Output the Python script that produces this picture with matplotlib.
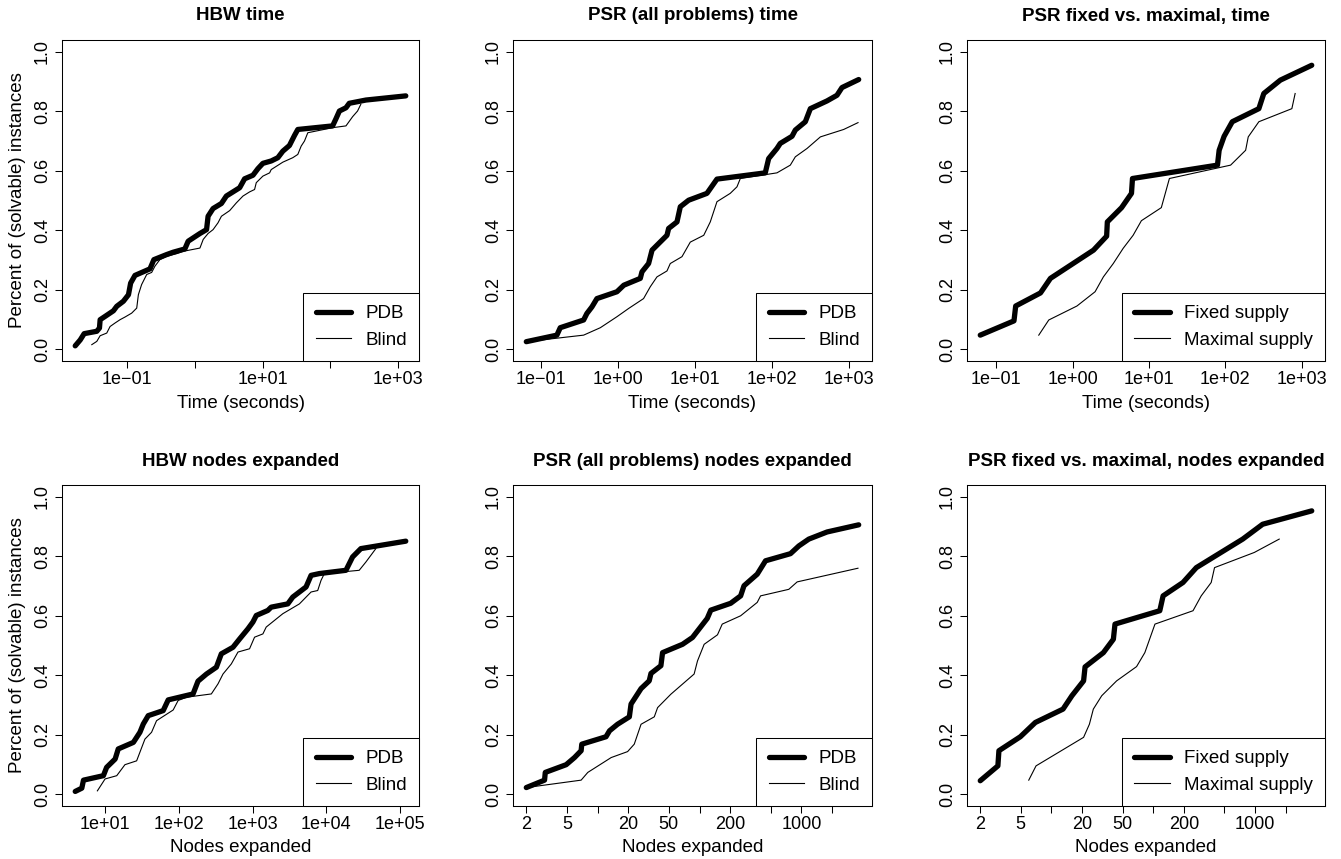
import numpy as np
import matplotlib
matplotlib.use("Agg")
import matplotlib.pyplot as plt

plt.rcParams['font.family'] = ['Liberation Sans', 'DejaVu Sans']

# ---------------- data ----------------
# Panel 1: HBW time
hbw_time_pdb_x = [0.0172, 0.0204, 0.0233, 0.0358, 0.0392, 0.0401, 0.0474, 0.0630, 0.0705, 0.0883,
                  0.105, 0.113, 0.131, 0.218, 0.249, 0.383, 0.480, 0.713, 0.798, 1.19, 1.49, 1.57,
                  1.86, 2.47, 2.92, 3.66, 4.59, 5.43, 7.21, 8.53, 10.1, 13.4, 16.8, 19.9, 24.9, 29.6,
                  33.1, 108, 121, 136, 170, 190, 335, 1297]
hbw_time_pdb_y = [0.011, 0.031, 0.052, 0.060, 0.071, 0.099, 0.110, 0.129, 0.144, 0.161,
                  0.183, 0.222, 0.248, 0.270, 0.301, 0.318, 0.326, 0.337, 0.363, 0.389, 0.402, 0.447,
                  0.473, 0.490, 0.515, 0.529, 0.543, 0.573, 0.585, 0.607, 0.625, 0.633, 0.644, 0.666,
                  0.685, 0.719, 0.739, 0.751, 0.775, 0.801, 0.812, 0.827, 0.838, 0.852]
hbw_time_blind_x = [0.0302, 0.0358, 0.0401, 0.0502, 0.0562, 0.0667, 0.0789, 0.0935, 0.117, 0.139,
                    0.147, 0.164, 0.195, 0.231, 0.258, 0.305, 0.383, 0.537, 0.673, 1.19, 1.33, 1.57,
                    1.86, 2.20, 2.47, 3.27, 4.10, 5.14, 6.44, 7.62, 8.07, 10.1, 12.7, 13.4, 19.9, 27.9,
                    33.1, 37.1, 41.5, 46.5, 108, 170, 213, 252, 282]
hbw_time_blind_y = [0.015, 0.026, 0.045, 0.054, 0.076, 0.088, 0.099, 0.108, 0.121, 0.138,
                    0.183, 0.217, 0.251, 0.258, 0.279, 0.301, 0.312, 0.321, 0.329, 0.340, 0.369, 0.389,
                    0.402, 0.425, 0.447, 0.466, 0.492, 0.515, 0.529, 0.537, 0.560, 0.582, 0.593, 0.604,
                    0.629, 0.644, 0.655, 0.683, 0.700, 0.728, 0.745, 0.751, 0.782, 0.801, 0.824]

# Panel 2: PSR (all problems) time
psr_time_pdb_x = [0.0645, 0.161, 0.178, 0.358, 0.395, 0.459, 0.533, 0.970, 1.19, 1.95, 2.05, 2.50,
                  2.77, 4.33, 4.55, 5.84, 6.45, 8.28, 14.3, 19.3, 81.8, 90.5, 116, 128, 182, 201,
                  271, 315, 518, 698, 811, 1337]
psr_time_pdb_y = [0.025, 0.047, 0.072, 0.098, 0.120, 0.142, 0.170, 0.193, 0.215, 0.238, 0.260, 0.288,
                  0.333, 0.383, 0.406, 0.428, 0.479, 0.501, 0.524, 0.572, 0.593, 0.641, 0.675, 0.692,
                  0.716, 0.737, 0.765, 0.809, 0.835, 0.854, 0.880, 0.907]
psr_time_blind_x = [0.0645, 0.358, 0.590, 0.970, 1.38, 2.15, 2.63, 3.21, 4.33, 4.78, 6.78, 8.69,
                    13.0, 15.8, 19.3, 28.7, 35.1, 38.8, 116, 173, 201, 285, 425, 853, 1310]
psr_time_blind_y = [0.025, 0.047, 0.072, 0.109, 0.137, 0.170, 0.210, 0.243, 0.263, 0.288, 0.311, 0.360,
                    0.383, 0.428, 0.496, 0.524, 0.546, 0.574, 0.593, 0.619, 0.647, 0.675, 0.714, 0.739, 0.762]

# Panel 3: PSR fixed vs. maximal, time
fm_time_fixed_x = [0.0619, 0.171, 0.180, 0.380, 0.513, 1.88, 2.79, 2.85, 4.38, 5.90, 6.08,
                   78.7, 82.8, 96.2, 123, 274, 318, 524, 1349]
fm_time_fixed_y = [0.047, 0.095, 0.145, 0.189, 0.238, 0.333, 0.380, 0.428, 0.476, 0.524, 0.574,
                   0.619, 0.669, 0.716, 0.765, 0.809, 0.860, 0.905, 0.955]
fm_time_max_x = [0.361, 0.488, 1.14, 1.97, 2.53, 3.41, 4.59, 6.20, 7.95, 14.5, 18.5,
                 117, 184, 199, 274, 741, 818]
fm_time_max_y = [0.047, 0.098, 0.145, 0.193, 0.243, 0.288, 0.339, 0.383, 0.432, 0.476, 0.574,
                 0.619, 0.669, 0.714, 0.765, 0.809, 0.860]

# Panel 4: HBW nodes expanded
hbw_nodes_pdb_x = [3.94, 4.84, 5.10, 9.49, 10.5, 13.7, 15.1, 24.2, 29.7, 33.0, 38.5, 61.4, 71.8,
                   156, 182, 237, 323, 377, 542, 667, 865, 1011, 1122, 1611, 1787, 3000, 3508,
                   4315, 5309, 6209, 8040, 18440, 22700, 29400, 119400]
hbw_nodes_pdb_y = [0.009, 0.020, 0.047, 0.062, 0.090, 0.118, 0.152, 0.174, 0.208, 0.236, 0.264, 0.281,
                   0.317, 0.337, 0.380, 0.404, 0.427, 0.472, 0.494, 0.522, 0.556, 0.579, 0.601, 0.618,
                   0.629, 0.640, 0.663, 0.680, 0.697, 0.736, 0.742, 0.753, 0.798, 0.826, 0.851]
hbw_nodes_blind_x = [7.87, 10.0, 14.4, 18.6, 26.8, 34.7, 42.7, 49.9, 83.8, 97.9, 127, 276, 340, 397,
                     515, 634, 910, 1064, 1380, 1530, 2570, 4315, 6209, 7640, 8470, 9400, 27900,
                     34400, 46900]
hbw_nodes_blind_y = [0.011, 0.051, 0.062, 0.099, 0.112, 0.185, 0.208, 0.247, 0.283, 0.315, 0.326,
                     0.337, 0.371, 0.404, 0.438, 0.478, 0.489, 0.528, 0.539, 0.562, 0.607, 0.640,
                     0.680, 0.685, 0.719, 0.742, 0.753, 0.781, 0.826]

# Panel 5: PSR (all problems) nodes expanded
psr_nodes_pdb_x = [2.0, 3.02, 3.07, 4.92, 5.94, 6.90, 7.00, 12.1, 13.1, 15.7, 20.5, 21.3, 26.7, 32.1,
                   33.4, 41.8, 43.4, 68.1, 85.3, 119, 129, 202, 253, 273, 368, 444, 780, 942, 1180,
                   1783, 3640]
psr_nodes_pdb_y = [0.022, 0.047, 0.073, 0.099, 0.123, 0.146, 0.168, 0.193, 0.213, 0.235, 0.260, 0.303,
                   0.355, 0.381, 0.406, 0.432, 0.476, 0.504, 0.527, 0.591, 0.619, 0.642, 0.667, 0.701,
                   0.740, 0.785, 0.809, 0.835, 0.858, 0.882, 0.906]
psr_nodes_blind_x = [2.0, 6.90, 8.02, 13.6, 19.7, 22.9, 26.7, 36.0, 38.8, 52.3, 88.5, 95.5, 111, 150,
                     167, 253, 368, 397, 751, 907, 3580]
psr_nodes_blind_y = [0.022, 0.047, 0.073, 0.123, 0.143, 0.168, 0.235, 0.260, 0.291, 0.336, 0.404, 0.448,
                     0.504, 0.536, 0.572, 0.600, 0.645, 0.667, 0.689, 0.714, 0.760]

# Panel 6: PSR fixed vs. maximal, nodes expanded
fm_nodes_fixed_x = [2.0, 2.98, 3.05, 4.95, 6.95, 13.0, 15.9, 20.7, 21.4, 32.4, 40.6, 42.1, 116, 125,
                    196, 265, 757, 1188, 3605]
fm_nodes_fixed_y = [0.045, 0.095, 0.146, 0.193, 0.241, 0.286, 0.331, 0.381, 0.428, 0.476, 0.521, 0.572,
                    0.617, 0.667, 0.712, 0.762, 0.858, 0.908, 0.953]
fm_nodes_max_x = [5.99, 7.06, 20.7, 23.6, 25.8, 31.2, 43.7, 68.6, 82.7, 104, 246, 296, 371, 400,
                  983, 1728]
fm_nodes_max_y = [0.047, 0.095, 0.191, 0.235, 0.286, 0.331, 0.381, 0.429, 0.476, 0.572, 0.617, 0.667,
                  0.712, 0.762, 0.813, 0.858]

titles = ["HBW time", "PSR (all problems) time", "PSR fixed vs. maximal, time",
          "HBW nodes expanded", "PSR (all problems) nodes expanded",
          "PSR fixed vs. maximal, nodes expanded"]
legend_pdb = ["PDB", "Blind"]
legend_fm = ["Fixed supply", "Maximal supply"]

time_ticks = [0.1, 1, 10, 100, 1000]
time_labels_hbw = ["1e\u221201", "", "1e+01", "", "1e+03"]
time_labels_psr = ["1e\u221201", "1e+00", "1e+01", "1e+02", "1e+03"]
hbw_node_ticks = [10, 100, 1000, 10000, 100000]
hbw_node_labels = ["1e+01", "1e+02", "1e+03", "1e+04", "1e+05"]
psr_node_ticks = [2, 5, 10, 20, 50, 100, 200, 500, 1000, 2000]
psr_node_labels = ["2", "5", "", "20", "50", "", "200", "", "1000", ""]
y_ticks = [0.0, 0.2, 0.4, 0.6, 0.8, 1.0]
y_labels = ["0.0", "0.2", "0.4", "0.6", "0.8", "1.0"]

# ---------------- layout ----------------
W, H = 1341, 859
fig = plt.figure(figsize=(W / 100, H / 100), dpi=100)

cols = [(62, 419), (513, 872), (967, 1325)]
rows = [(40, 361), (485, 806)]

panels = [
    (hbw_time_pdb_x, hbw_time_pdb_y, hbw_time_blind_x, hbw_time_blind_y, legend_pdb,
     time_ticks, time_labels_hbw, "Time (seconds)"),
    (psr_time_pdb_x, psr_time_pdb_y, psr_time_blind_x, psr_time_blind_y, legend_pdb,
     time_ticks, time_labels_psr, "Time (seconds)"),
    (fm_time_fixed_x, fm_time_fixed_y, fm_time_max_x, fm_time_max_y, legend_fm,
     time_ticks, time_labels_psr, "Time (seconds)"),
    (hbw_nodes_pdb_x, hbw_nodes_pdb_y, hbw_nodes_blind_x, hbw_nodes_blind_y, legend_pdb,
     hbw_node_ticks, hbw_node_labels, "Nodes expanded"),
    (psr_nodes_pdb_x, psr_nodes_pdb_y, psr_nodes_blind_x, psr_nodes_blind_y, legend_pdb,
     psr_node_ticks, psr_node_labels, "Nodes expanded"),
    (fm_nodes_fixed_x, fm_nodes_fixed_y, fm_nodes_max_x, fm_nodes_max_y, legend_fm,
     psr_node_ticks, psr_node_labels, "Nodes expanded"),
]

TICK_FS = 13
LAB_FS = 13.5
TITLE_FS = 13.5

for i, (x1, y1, x2, y2, leg, xt, xtl, xlab) in enumerate(panels):
    r, c = divmod(i, 3)
    (l, rr), (t, b) = cols[c], rows[r]
    ax = fig.add_axes([l / W, 1 - b / H, (rr - l) / W, (b - t) / H])
    ax.set_xscale("log")
    ax.plot(x1, y1, color="black", lw=3.8, solid_capstyle="round", solid_joinstyle="round",
            label=leg[0])
    ax.plot(x2, y2, color="black", lw=0.8, label=leg[1])

    lo = np.log10(min(min(x1), min(x2)))
    hi = np.log10(max(max(x1), max(x2)))
    span = hi - lo
    ax.set_xlim(10 ** (lo - 0.04 * span), 10 ** (hi + 0.04 * span))
    ax.set_ylim(-0.04, 1.04)

    ax.xaxis.set_minor_locator(matplotlib.ticker.NullLocator())
    ax.set_xticks(xt)
    ax.set_xticklabels(xtl)
    ax.set_yticks(y_ticks)
    ax.set_yticklabels(y_labels, rotation=90, va="center")
    ax.tick_params(axis="both", direction="out", length=5, width=0.75, labelsize=TICK_FS,
                   color="black")
    ax.tick_params(axis="x", pad=2)
    ax.tick_params(axis="y", pad=3)
    for s in ax.spines.values():
        s.set_linewidth(0.75)
        s.set_color("black")

    ax.set_xlabel(xlab, fontsize=LAB_FS)
    ax.xaxis.set_label_coords(0.5, -42 / (b - t))
    ax.xaxis.label.set_va("center")
    if c == 0:
        ax.set_ylabel("Percent of (solvable) instances", fontsize=LAB_FS)
        ax.yaxis.set_label_coords(-44 / (rr - l), 0.5)
        ax.yaxis.label.set_va("center")

    ax.text(0.5, 1 + 24 / (b - t), titles[i], transform=ax.transAxes, ha="center", va="center",
            fontsize=TITLE_FS, fontweight="bold")

    lg = ax.legend(loc="lower right", borderaxespad=0, fontsize=LAB_FS, fancybox=False,
                   framealpha=1, edgecolor="black", handlelength=1.9, handletextpad=0.75,
                   borderpad=0.65, labelspacing=0.5)
    lg.get_frame().set_linewidth(0.75)

fig.savefig("out.png", dpi=100)
